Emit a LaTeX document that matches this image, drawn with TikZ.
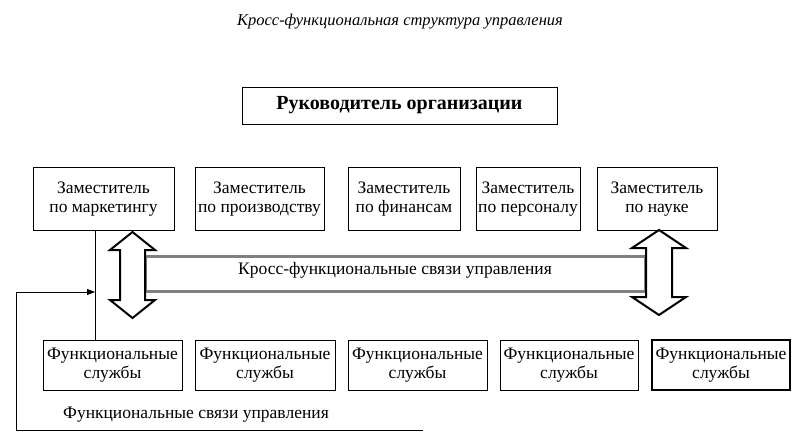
\documentclass[tikz,border=0pt]{standalone}
\usepackage{fontspec}
\setmainfont{Liberation Serif}
\usetikzlibrary{arrows.meta}
\begin{document}
\begin{tikzpicture}[x=1pt,y=-1pt,
  box/.style={draw,line width=0.9pt,align=center,font=\fontsize{17.5}{19}\selectfont,inner sep=0pt},
  dbl/.style={draw,line width=2pt,fill=white,line join=miter}]
\useasboundingbox (0,0) rectangle (802,446);
\node[font=\itshape\fontsize{16.5}{18}\selectfont] (title) at (400,22) {Кросс-функциональная структура управления};
\node[box,minimum width=315pt,minimum height=37pt,font=\bfseries\fontsize{20}{22}\selectfont] (head) at (399.5,105.5) {Руководитель организации};
\foreach \n/\a/\b/\t in {d1/33/174/по маркетингу,d2/195/324/по производству,d3/348/460/по финансам,d4/476/580/по персоналу,d5/597/717/по науке}{
  \pgfmathsetmacro\cx{(\a+\b)/2}\pgfmathsetmacro\w{\b-\a}
  \node[box,minimum width=\w pt,minimum height=63pt,anchor=north] (\n) at (\cx,167) {\raisebox{6pt}{\parbox{\w pt}{\centering Заместитель\\ \t}}};
}
\foreach \n/\a/\b/\lw in {f1/43/182/0.9,f2/195/335/0.9,f3/348/487/0.9,f4/500/638/0.9,f5/652/790/1.6}{
  \pgfmathsetmacro\cx{(\a+\b)/2}\pgfmathsetmacro\w{\b-\a}
  \node[box,line width=\lw pt,minimum width=\w pt,minimum height=50pt] (\n) at (\cx,365) {Функциональные\\службы};
}
% horizontal bar
\node[draw=gray,line width=3pt,fill=white,minimum width=500pt,minimum height=35pt] (bar) at (395,273.5) {};
\node[font=\fontsize{17.5}{19}\selectfont] (bartext) at (395,270) {Кросс-функциональные связи управления};
% double arrows
\draw[dbl] (132.5,232) -- (155,250) -- (145,250) -- (145,300) -- (155,300) -- (132.5,318) -- (110,300) -- (120,300) -- (120,250) -- (110,250) -- cycle;
\draw[dbl] (659,230) -- (686,248) -- (672,248) -- (672,297) -- (686,297) -- (659,315) -- (632,297) -- (646,297) -- (646,248) -- (632,248) -- cycle;
% functional links
\coordinate (j) at (95,292);
\coordinate (c1) at (16,292);
\coordinate (c2) at (16,430);
\coordinate (c3) at (423,430);
\draw[line width=0.8pt] (d1.south -| j) -- (f1.north -| j);
\draw[line width=0.8pt,-{Triangle[length=8pt,width=6pt]}] (c3) -- (c2) -- (c1) -- (j);
\node[font=\fontsize{17.5}{19}\selectfont] (fl) at (196,415) {Функциональные связи управления};
\end{tikzpicture}
\end{document}
